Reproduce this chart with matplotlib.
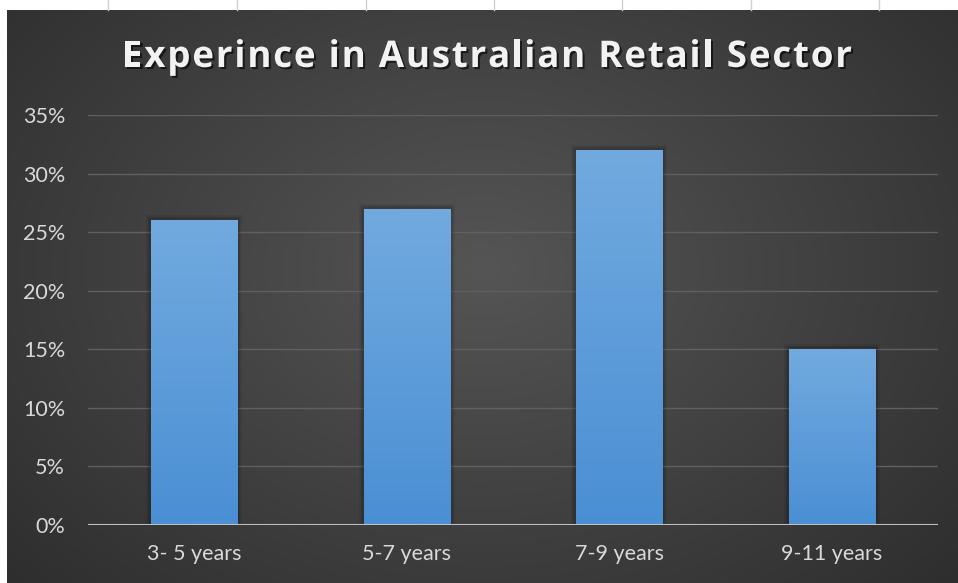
import numpy as np
import matplotlib.pyplot as plt
import matplotlib.patheffects as pe
from matplotlib.colors import LinearSegmentedColormap
from matplotlib.ticker import FuncFormatter

# dane
categories = ["3- 5 years", "5-7 years", "7-9 years", "9-11 years"]
shares = [26, 27, 32, 15]
y_ticks = [0, 5, 10, 15, 20, 25, 30, 35]
title = "Experince in Australian Retail Sector"

W, H = 958, 583
fig = plt.figure(figsize=(W / 100, H / 100), dpi=100)
fig.patch.set_facecolor("white")

# ciemne tło z jaśniejszym środkiem
bg = fig.add_axes([7 / W, 0, 1 - 7 / W, (H - 10) / H])
bg.set_axis_off()
yy, xx = np.mgrid[0:1:300j, 0:1:500j]
r = np.sqrt(((xx - 0.5) / 0.75) ** 2 + ((yy - 0.45) / 0.9) ** 2)
bg_cmap = LinearSegmentedColormap.from_list("bg", ["#555555", "#2a2a2a"])
bg.imshow(np.clip(r, 0, 1), cmap=bg_cmap, aspect="auto", extent=[0, 1, 0, 1],
          vmin=0, vmax=1)
bg.set_xlim(0, 1)
bg.set_ylim(0, 1)

# kreski siatki arkusza nad wykresem
for x in [108, 237, 366, 494, 622, 751, 879]:
    fig.add_artist(plt.Line2D([x / W, x / W], [1 - 10 / H, 1], color="#d0d0d0", lw=1))

ax = fig.add_axes([88 / W, (H - 525) / H, 850 / W, 410 / H])
ax.patch.set_alpha(0)
ax.set_xlim(-0.5, len(categories) - 0.5)
ax.set_ylim(0, 35)

bars = ax.bar(range(len(categories)), shares, width=0.405, color="#5b9bd5", zorder=3,
              path_effects=[pe.Stroke(linewidth=7, foreground="black", alpha=0.08),
                            pe.Stroke(linewidth=4, foreground="black", alpha=0.15),
                            pe.Normal()])

# gradient na słupkach
bar_cmap = LinearSegmentedColormap.from_list("bar", ["#4a8fd4", "#72aadf"])
grad = np.linspace(0, 1, 256).reshape(-1, 1)
for b in bars:
    im = ax.imshow(grad, cmap=bar_cmap, aspect="auto", origin="lower", zorder=4,
                   extent=[b.get_x(), b.get_x() + b.get_width(), 0, b.get_height()])
    im.set_clip_path(b)

ax.set_yticks(y_ticks)
ax.yaxis.set_major_formatter(FuncFormatter(lambda v, _: f"{v:.0f}%"))
ax.set_xticks(range(len(categories)))
ax.set_xticklabels(categories)
ax.grid(axis="y", color="#606060", lw=1, zorder=0)
ax.axhline(0, color="#bfbfbf", lw=1.5, zorder=5)
for s in ax.spines.values():
    s.set_visible(False)
ax.tick_params(length=0, colors="#d9d9d9", labelsize=15.5)
ax.tick_params(axis="y", pad=16.5)
ax.tick_params(axis="x", pad=14)
for lab in ax.get_xticklabels() + ax.get_yticklabels():
    lab.set_fontfamily("Lato")

# tytuł ze rozstrzelonymi literami
title_kw = dict(color="#f2f2f2", fontsize=26.5, fontweight="bold", fontfamily="Open Sans",
                va="center", ha="left",
                path_effects=[pe.withSimplePatchShadow(offset=(1.5, -1.5),
                                                       shadow_rgbFace="black", alpha=0.6)])
renderer = fig.canvas.get_renderer()
probe = fig.text(0, 0, title, **title_kw)
full_w = probe.get_window_extent(renderer).width
probe.remove()
t_left, t_right, t_y = 122, 852, H - 57
gap = (t_right - t_left - full_w) / (len(title) - 1)
for i, ch in enumerate(title):
    if i:
        p = fig.text(0, 0, title[:i] + "|", **title_kw)
        bar_w = fig.text(0, 0, "|", **title_kw)
        w = p.get_window_extent(renderer).width - bar_w.get_window_extent(renderer).width
        p.remove()
        bar_w.remove()
    else:
        w = 0
    if ch != " ":
        fig.text((t_left + w + i * gap) / W, t_y / H, ch, **title_kw)

fig.savefig("out.png", dpi=100)
